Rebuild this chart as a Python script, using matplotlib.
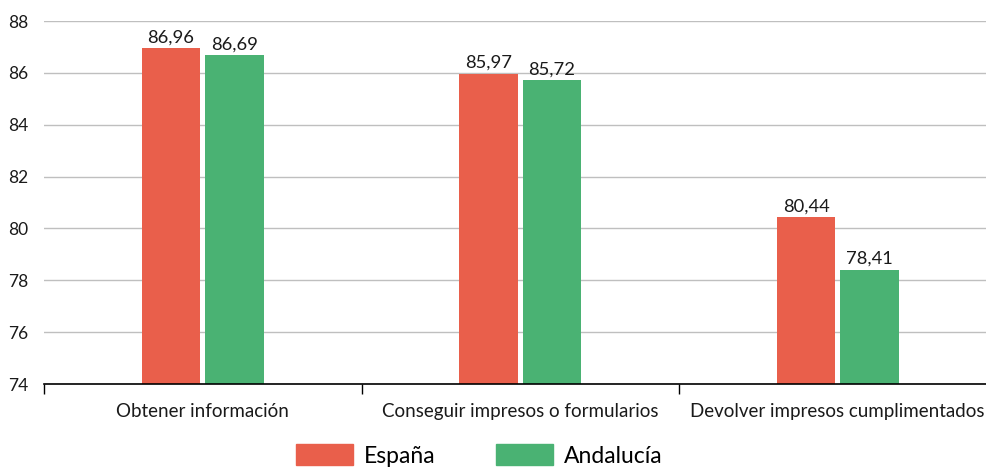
import matplotlib.pyplot as plt
import numpy as np
from matplotlib.patches import Patch

plt.rcParams['font.family'] = ['Lato', 'DejaVu Sans']

categorias = ["Obtener información", "Conseguir impresos o formularios",
              "Devolver impresos cumplimentados"]
espana = [86.96, 85.97, 80.44]
andalucia = [86.69, 85.72, 78.41]
series = ["España", "Andalucía"]
colores = ["#E95F4B", "#4AB273"]

W, H = 987, 473
fig = plt.figure(figsize=(W / 100, H / 100), dpi=100)
ax = fig.add_axes([44 / W, 1 - 384 / H, (996.5 - 44) / W, (384 - 21) / H])

x = np.arange(len(categorias))
ancho = 0.183
for vals, off, col in [(espana, -0.1, colores[0]), (andalucia, 0.1, colores[1])]:
    bars = ax.bar(x + off, vals, ancho, color=col, zorder=3)
    for b, v in zip(bars, vals):
        ax.text(b.get_x() + b.get_width() / 2, v + 0.1,
                f"{v:.2f}".replace(".", ","), ha='center', va='bottom',
                fontsize=13.2, color='#1a1a1a')

ax.set_ylim(74, 88)
ax.set_xlim(-0.5, 2.5)
ax.set_yticks(np.arange(74, 89, 2))
ax.tick_params(axis='y', length=0, labelsize=12.5, pad=11, labelcolor='#1a1a1a')
ax.grid(axis='y', color='#bfbfbf', linewidth=1, zorder=0)

ax.set_xticks([-0.5, 0.5, 1.5, 2.5])
ax.set_xticklabels([])
ax.set_xticks(x, minor=True)
ax.set_xticklabels(categorias, minor=True)
ax.tick_params(axis='x', which='major', length=7, width=1, direction='out')
ax.tick_params(axis='x', which='minor', length=0, labelsize=13.5, pad=14,
               labelcolor='#1a1a1a')

for s in ['top', 'right', 'left']:
    ax.spines[s].set_visible(False)
ax.spines['bottom'].set_linewidth(1.2)
ax.spines['bottom'].set_zorder(4)

handles = [Patch(color=c, label=s) for c, s in zip(colores, series)]
fig.legend(handles=handles, loc='lower left', bbox_to_anchor=(275 / W, -0.03),
           ncol=2, frameon=False, fontsize=16.5, handlelength=2.5,
           handleheight=1.0, columnspacing=2.6, handletextpad=0.5)

fig.savefig("out.png", dpi=100)
